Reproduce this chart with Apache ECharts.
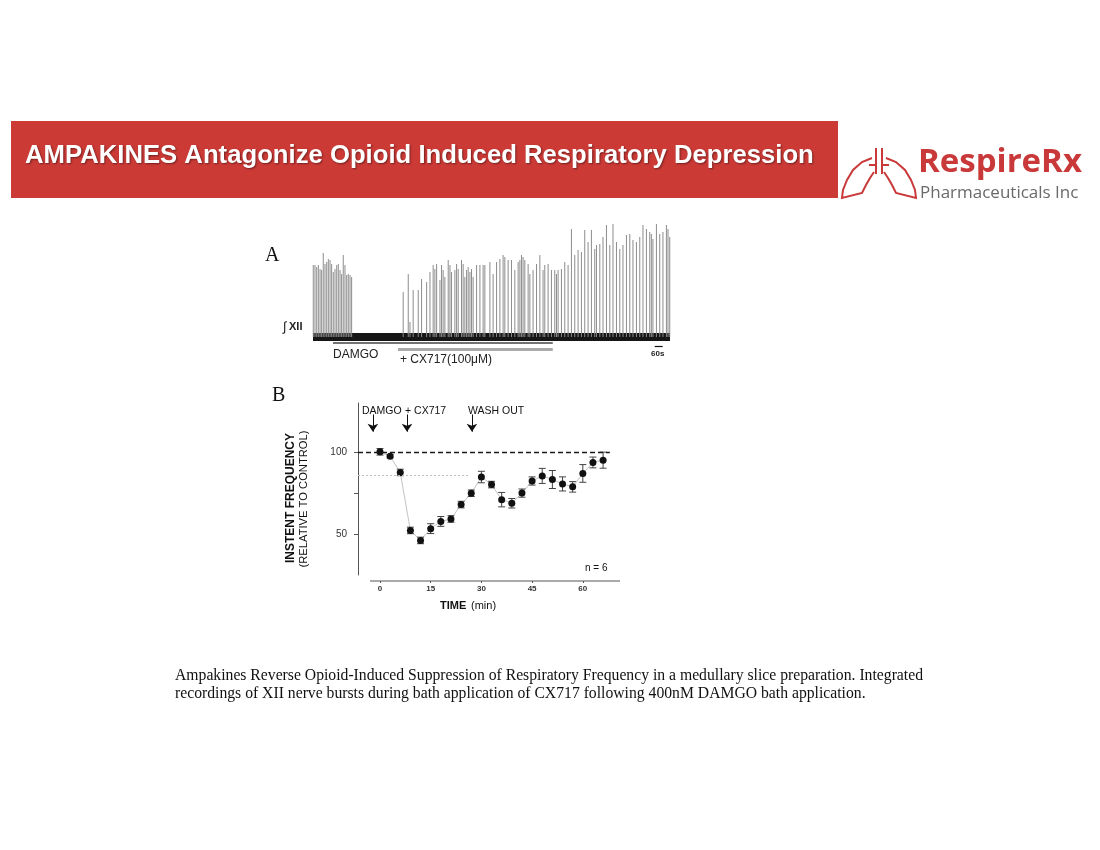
<!DOCTYPE html>
<html><head><meta charset="utf-8">
<script src="https://cdn.jsdelivr.net/npm/echarts@6/dist/echarts.min.js"></script>
<style>html,body{margin:0;padding:0;background:#fff}#c{width:1100px;height:850px}</style>
</head><body><div id="c"></div><script>
// ---------- Panel A: integrated XII trace (burst times in s, burst amplitude in a.u.) ----------
const spikeTimes = [2,15,28,40,53,65,77,90,103,115,128,140,152,165,178,190,203,215,227,240,253,265,278,290,
  677,715,728,752,790,815,853,878,902,915,928,953,965,977,990,1015,1028,1040,1065,1078,1090,1115,1127,1140,1153,1165,1178,1190,1202,1228,
  1253,1277,1290,1328,1352,1378,1403,1427,1440,1465,1490,1515,1540,1553,1565,1577,1590,1615,1628,1652,1678,1703,1727,1740,1765,1790,1815,1828,1840,1865,1890,1915,
  1940,1965,1990,2015,2040,2065,2090,2115,2128,2153,2177,2203,2228,2252,2278,2303,2327,2353,2378,2402,2428,2453,2477,2503,2528,2540,2552,2578,2603,2627,2653,2665,2678];
const spikeHeights = [72,72,70,72,68,67,84,73,75,78,77,73,65,68,72,73,67,63,82,72,62,63,62,60,
  45,63,15,47,47,58,55,65,72,68,73,57,72,67,60,77,72,65,67,73,68,77,73,60,67,70,65,68,60,72,
  72,72,72,75,63,75,78,82,80,77,77,67,75,77,82,80,77,73,63,67,73,82,67,72,73,67,67,63,67,68,75,72,
  108,82,87,85,107,95,107,88,92,93,100,112,92,113,95,88,92,102,103,97,95,100,112,108,105,103,98,113,103,105,112,108,100];
const traceEnd = 2680;
const noiseAmp = 4;
const damgoPeriod = [150, 1800];
const cx717Period = [638, 1800];
const scaleBar = [2565, 2625];

// ---------- Panel B: instant frequency (relative to control) ----------
const timeMin = [0,3,6,9,12,15,18,21,24,27,30,33,36,39,42,45,48,51,54,57,60,63,66];
const meanFreq = [100.2,97.5,87.6,52.2,46.1,53.3,57.7,59.2,68.0,74.9,84.8,80.2,71.0,68.8,75.0,82.4,85.5,83.3,80.6,78.8,87.0,93.7,95.1];
const semFreq = [2,1,2,2,2,3,3,2,2,2,3.5,2,4.4,2.9,2.5,2.5,4.6,5.5,4.3,3.2,5.4,3.3,4.9];
const eventTimes = [-2.1, 8, 27.2];
const controlLevel = 100;
const preLevel = 85.9;
const xTicks = [0,15,30,45,60];

const SANS = "'Liberation Sans', Arial, Helvetica, sans-serif";
const SERIF = "'Liberation Serif', 'Times New Roman', serif";

const chart = echarts.init(document.getElementById('c'), null, {renderer:'canvas'});

const spikeData = spikeTimes.map((t,i)=>[t, spikeHeights[i]]);
const pts = timeMin.map((t,i)=>[t, meanFreq[i]]);
const errs = timeMin.map((t,i)=>[t, meanFreq[i]-semFreq[i], meanFreq[i]+semFreq[i]]);

function errRender(params, api){
  const x = api.value(0), lo = api.value(1), hi = api.value(2);
  const a = api.coord([x, lo]), b = api.coord([x, hi]);
  const w = 3.5, st = {stroke:'#444', lineWidth:1};
  return {type:'group', children:[
    {type:'line', shape:{x1:a[0],y1:a[1],x2:b[0],y2:b[1]}, style:st},
    {type:'line', shape:{x1:a[0]-w,y1:a[1],x2:a[0]+w,y2:a[1]}, style:st},
    {type:'line', shape:{x1:b[0]-w,y1:b[1],x2:b[0]+w,y2:b[1]}, style:st}
  ]};
}

const logoStyle = {stroke:'#c9393a', lineWidth:2, fill:null};

const option = {
  backgroundColor:'#fff',
  animation:false,
  grid:[
    {left:313, right:430, top:217, bottom:497},
    {left:358, right:480, top:403, bottom:275}
  ],
  xAxis:[
    {gridIndex:0, type:'value', min:0, max:traceEnd, show:false},
    {gridIndex:1, type:'value', min:-6.5, max:71, offset:6,
      axisLine:{show:false, onZero:false}, splitLine:{show:false},
      axisTick:{show:true, length:2, customValues:xTicks, lineStyle:{color:'#555'}},
      axisLabel:{customValues:xTicks, fontSize:8, fontWeight:'bold', color:'#333', margin:4, fontFamily:SANS}}
  ],
  yAxis:[
    {gridIndex:0, type:'value', min:-16, max:120, show:false},
    {gridIndex:1, type:'value', min:25, max:130, interval:25,
      splitLine:{show:false},
      axisLine:{show:true, onZero:false, lineStyle:{color:'#555', width:1}},
      axisTick:{show:true, length:4, customValues:[50,75,100], lineStyle:{color:'#555'}},
      axisLabel:{customValues:[50,100], fontSize:10, color:'#333', margin:11, fontFamily:SANS,
        formatter:v=>(v===50||v===100)?String(v):''}}
  ],
  series:[
    {type:'bar', xAxisIndex:0, yAxisIndex:0, data:spikeData, barWidth:1, barGap:'-100%',
      itemStyle:{color:'#8c8c8c'}, silent:true, z:3,
      markArea:{silent:true, itemStyle:{color:'#161616'}, data:[[{coord:[0,-noiseAmp]},{coord:[traceEnd,noiseAmp]}]]},
      markLine:{silent:true, symbol:'none', label:{show:false}, data:[
        [{coord:[damgoPeriod[0],-6], lineStyle:{color:'#444', width:1.6, type:'solid'}},{coord:[damgoPeriod[1],-6]}],
        [{coord:[cx717Period[0],-12], lineStyle:{color:'#aaa', width:3, type:'solid'}},{coord:[cx717Period[1],-12]}],
        [{coord:[scaleBar[0],-9], lineStyle:{color:'#111', width:1.2, type:'solid'}},{coord:[scaleBar[1],-9]}]
      ]}
    },
    {type:'line', xAxisIndex:1, yAxisIndex:1, data:pts, symbol:'none',
      lineStyle:{color:'#c4c4c4', width:1}, z:2,
      markLine:{silent:true, symbol:'none', label:{show:false}, data:[
        [{coord:[-6.5,controlLevel], lineStyle:{color:'#1a1a1a', width:1.3, type:[5,3]}},{coord:[68,controlLevel]}],
        [{coord:[-6.5,preLevel], lineStyle:{color:'#bbb', width:1, type:[2,2]}},{coord:[26,preLevel]}]
      ]}
    },
    {type:'custom', xAxisIndex:1, yAxisIndex:1, data:errs, renderItem:errRender, z:3, silent:true},
    {type:'scatter', xAxisIndex:1, yAxisIndex:1, data:pts, symbol:'circle', symbolSize:7,
      itemStyle:{color:'#111', opacity:1}, z:4,
      markLine:{silent:true, symbol:['none','arrow'], symbolSize:8, label:{show:false},
        lineStyle:{color:'#111', width:1, type:'solid'},
        data:eventTimes.map(t=>[{coord:[t,123]},{coord:[t,112.5]}])}
    }
  ],
  graphic:[
    // header banner
    {type:'rect', shape:{x:11,y:121,width:827,height:77}, style:{fill:'#cc3a36'}, z:0},
    {type:'text', x:25, y:156, style:{text:'AMPAKINES Antagonize Opioid Induced Respiratory Depression',
      fill:'#fff', font:"bold 25.7px "+SANS, textVerticalAlign:'middle',
      textShadowColor:'rgba(0,0,0,0.45)', textShadowBlur:2, textShadowOffsetX:1, textShadowOffsetY:1}},
    // logo
    {type:'polyline', shape:{points:[[872,158],[862,162],[853,170],[847,180],[843,190],[842,198],[862,193],[866,185],[870,178],[874,172]]}, style:logoStyle},
    {type:'polyline', shape:{points:[[886,158],[896,162],[905,170],[911,180],[915,190],[916,198],[896,193],[892,185],[888,178],[884,172]]}, style:logoStyle},
    {type:'line', shape:{x1:876,y1:148,x2:876,y2:174}, style:logoStyle},
    {type:'line', shape:{x1:882,y1:148,x2:882,y2:174}, style:logoStyle},
    {type:'line', shape:{x1:869,y1:165,x2:876,y2:165}, style:logoStyle},
    {type:'line', shape:{x1:882,y1:165,x2:889,y2:165}, style:logoStyle},
    {type:'text', x:918, y:163, style:{text:'RespireRx', fill:'#c9393a', font:"bold 33px 'Open Sans', "+SANS, textVerticalAlign:'middle'}},
    {type:'text', x:920, y:193, style:{text:'Pharmaceuticals Inc', fill:'#6a6a6a', font:"17px 'Open Sans', "+SANS, textVerticalAlign:'middle'}},
    // panel letters
    {type:'text', x:265, y:256, style:{text:'A', fill:'#111', font:"20px "+SERIF, textVerticalAlign:'middle'}},
    {type:'text', x:272, y:396, style:{text:'B', fill:'#111', font:"20px "+SERIF, textVerticalAlign:'middle'}},
    // panel A labels
    {type:'text', x:283, y:327, style:{text:'∫', fill:'#222', font:"13px "+SANS, textVerticalAlign:'middle'}},
    {type:'text', x:289, y:327, style:{text:'XII', fill:'#222', font:"bold 11px "+SANS, textVerticalAlign:'middle'}},
    {type:'text', x:333, y:355, style:{text:'DAMGO', fill:'#222', font:"12px "+SANS, textVerticalAlign:'middle'}},
    {type:'text', x:400, y:360, style:{text:'+ CX717(100μM)', fill:'#222', font:"12px "+SANS, textVerticalAlign:'middle'}},
    {type:'text', x:651, y:354, style:{text:'60s', fill:'#222', font:"bold 8px "+SANS, textVerticalAlign:'middle'}},
    // panel B annotations
    {type:'text', x:362, y:411, style:{text:'DAMGO', fill:'#111', font:"10.5px "+SANS, textVerticalAlign:'middle'}},
    {type:'text', x:405, y:411, style:{text:'+ CX717', fill:'#111', font:"10.5px "+SANS, textVerticalAlign:'middle'}},
    {type:'text', x:468, y:411, style:{text:'WASH OUT', fill:'#111', font:"10.5px "+SANS, textVerticalAlign:'middle'}},
    {type:'text', x:585, y:568, style:{text:'n = 6', fill:'#111', font:"10px "+SANS, textVerticalAlign:'middle'}},
    {type:'line', shape:{x1:370,y1:581,x2:620,y2:581}, style:{stroke:'#555', lineWidth:1}},
    {type:'text', x:291, y:498, rotation:Math.PI/2, style:{text:'INSTENT FREQUENCY', fill:'#111', font:"bold 12px "+SANS, textAlign:'center', textVerticalAlign:'middle'}},
    {type:'text', x:304, y:499, rotation:Math.PI/2, style:{text:'(RELATIVE TO CONTROL)', fill:'#111', font:"11.2px "+SANS, textAlign:'center', textVerticalAlign:'middle'}},
    {type:'text', x:440, y:606, style:{text:'TIME', fill:'#111', font:"bold 11px "+SANS, textVerticalAlign:'middle'}},
    {type:'text', x:471, y:606, style:{text:'(min)', fill:'#111', font:"11px "+SANS, textVerticalAlign:'middle'}},
    // caption
    {type:'text', x:175, y:676, style:{text:'Ampakines Reverse Opioid-Induced Suppression of Respiratory Frequency in a medullary slice preparation. Integrated', fill:'#111', font:"15.7px "+SERIF, textVerticalAlign:'middle'}},
    {type:'text', x:175, y:694, style:{text:'recordings of XII nerve bursts during bath application of CX717 following 400nM DAMGO bath application.', fill:'#111', font:"15.7px "+SERIF, textVerticalAlign:'middle'}}
  ]
};
chart.setOption(option);
</script></body></html>
